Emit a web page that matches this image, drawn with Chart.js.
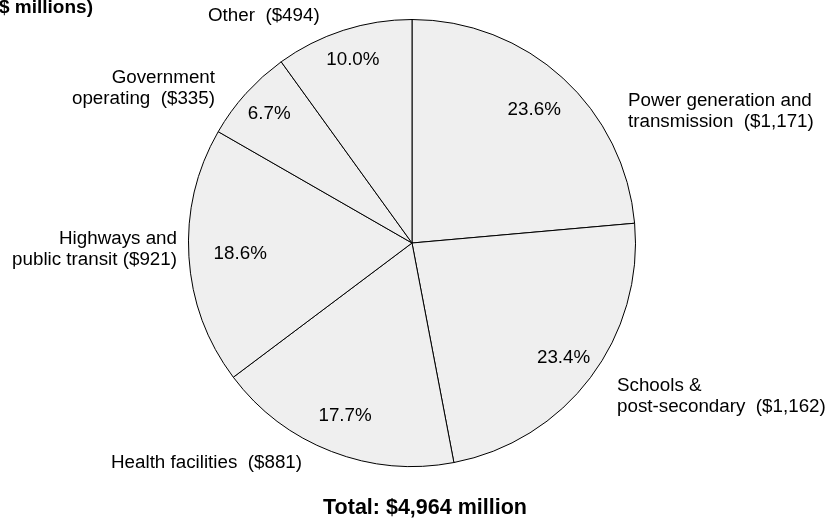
<!DOCTYPE html>
<html lang="en">
<head>
    <meta charset="UTF-8">
    <title>Capital spending by sector</title>
    <script src="https://cdn.jsdelivr.net/npm/chart.js"></script>
    <style>
        body {
            margin: 0;
            background-color: #fff;
        }
        canvas {
            display: block;
        }
    </style>
</head>
<body>
    <canvas id="myChart" width="825" height="520"></canvas>

    <script>
        // Spending by sector, $ millions (clockwise from 12 o'clock)
        const sectors = ['Power generation and transmission', 'Schools & post-secondary', 'Health facilities',
                         'Highways and public transit', 'Government operating', 'Other'];
        const amounts = [1171, 1162, 881, 921, 335, 494];

        // Outside labels, one entry per sector (lines of text)
        const sectorLabels = [
            ['Power generation and', 'transmission  ($1,171)'],
            ['Schools &', 'post-secondary  ($1,162)'],
            ['Health facilities  ($881)'],
            ['Highways and', 'public transit ($921)'],
            ['Government', 'operating  ($335)'],
            ['Other  ($494)']
        ];

        const totalText = 'Total: $4,964 million';
        const unitText = '$ millions)';

        const FONT = '"Liberation Sans", Arial, sans-serif';

        // where each outside label sits, and how far out the percentages go
        const labelPlace = [
            { x: 628, y: 101, align: 'left' },
            { x: 617, y: 386, align: 'left' },
            { x: 111, y: 463, align: 'left' },
            { x: 177, y: 239, align: 'right' },
            { x: 215, y: 78, align: 'right' },
            { x: 208, y: 16, align: 'left' }
        ];
        const pctRadius = [0.81, 0.85, 0.83, 0.77, 0.86, 0.86];

        const pieLabels = {
            id: 'pieLabels',
            afterDatasetsDraw(chart) {
                const c = chart.ctx;
                const meta = chart.getDatasetMeta(0);
                const total = amounts.reduce((a, b) => a + b, 0);

                c.save();
                c.fillStyle = '#000';
                c.font = '18.8px ' + FONT;
                c.textBaseline = 'middle';

                // percentages inside the slices
                c.textAlign = 'center';
                meta.data.forEach((arc, i) => {
                    const p = arc.getProps(['x', 'y', 'startAngle', 'endAngle', 'outerRadius'], true);
                    const mid = (p.startAngle + p.endAngle) / 2;
                    const r = p.outerRadius * pctRadius[i];
                    const pct = (amounts[i] / total * 100).toFixed(1) + '%';
                    c.fillText(pct, p.x + Math.cos(mid) * r, p.y + Math.sin(mid) * r);
                });

                // sector names outside the pie
                sectorLabels.forEach((lines, i) => {
                    const pos = labelPlace[i];
                    c.textAlign = pos.align;
                    lines.forEach((line, j) => {
                        c.fillText(line, pos.x, pos.y + j * 21);
                    });
                });

                // total under the pie
                c.font = 'bold 21.5px ' + FONT;
                c.textAlign = 'center';
                c.fillText(totalText, 425, 508);

                // unit note, clipped at the top-left corner
                c.font = 'bold 19px ' + FONT;
                c.textAlign = 'left';
                c.textBaseline = 'alphabetic';
                c.fillText(unitText, -1, 13);
                c.restore();
            }
        };

        const ctx = document.getElementById('myChart').getContext('2d');
        new Chart(ctx, {
            type: 'pie',
            data: {
                labels: sectors,
                datasets: [{
                    data: amounts,
                    backgroundColor: '#efefef',
                    borderColor: '#000',
                    borderWidth: 1,
                    hoverOffset: 0
                }]
            },
            options: {
                responsive: false,
                animation: false,
                events: [],
                layout: {
                    padding: { left: 188, right: 189, top: 19, bottom: 53 }
                },
                plugins: {
                    legend: { display: false },
                    tooltip: { enabled: false }
                }
            },
            plugins: [pieLabels]
        });
    </script>
</body>
</html>
